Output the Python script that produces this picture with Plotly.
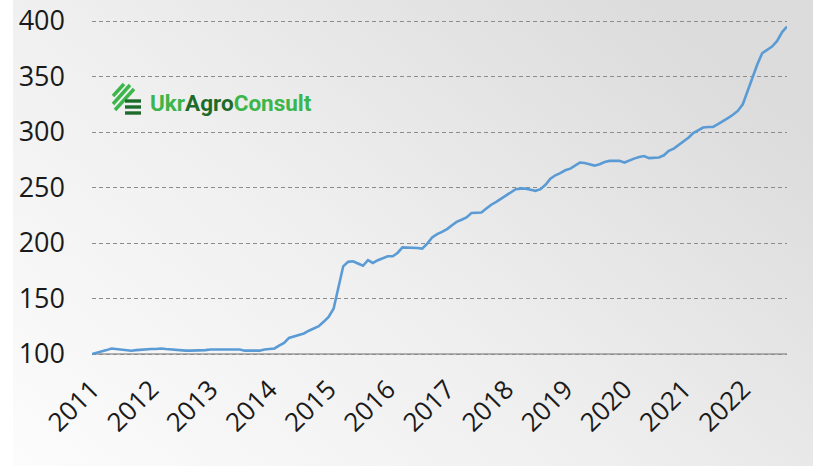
import plotly.graph_objects as go
import pandas as pd

# ---- data (monthly index, Jan 2011 = 100) ----
start_month = "2011-01-01"
values = [
    100, 101, 102, 103.5, 105, 104.5, 103.5, 103, 103, 103.5, 104, 104.5,      # 2011
    104.5, 104.5, 105, 104.5, 104, 103.5, 103, 103, 103, 103, 103, 103.5,      # 2012
    104, 104, 104, 104, 104, 104, 104, 103, 103, 103, 103, 104,                # 2013
    104.5, 105, 107.5, 110, 114.5, 116, 117, 118.5, 121, 123, 125, 129,        # 2014
    133.5, 141, 160, 179, 183, 183.5, 181.5, 179.5, 184.5, 182, 184.5, 186.5,  # 2015
    188, 188, 191, 196, 196, 196, 195.5, 195, 199.5, 205, 208, 210,            # 2016
    212.5, 216, 219, 221, 223, 227, 227.5, 227.5, 231, 234.5, 237, 240,        # 2017
    243, 246, 248.5, 249, 249, 248, 247, 248.5, 252.5, 258, 261, 263,          # 2018
    265.5, 267, 269.5, 272.5, 272, 270.5, 269.7, 271, 273, 274, 274, 274,      # 2019
    272.5, 274.5, 276, 277.5, 278.4, 276.5, 276.5, 277, 279, 283, 285, 288,    # 2020
    291.5, 295, 299, 301.5, 304, 304.5, 304.5, 307, 309.5, 312.5, 315.5, 319,  # 2021
    325, 338, 350, 361, 371, 374, 377, 382, 390, 395,                          # 2022
]
dates = pd.date_range(start_month, periods=len(values), freq="MS")
y_ticks = [100, 150, 200, 250, 300, 350, 400]

W, H = 813, 466
# desired plot area in screen pixels
SX0, SX1, SY0, SY1 = 92, 787, 17, 356
L, T = SX0, SY0
R, B = W - SX1, H - SY1
PW, PH = SX1 - SX0, SY1 - SY0
PPU = 1.11  # pixels per unit: 400 at y=21, 100 at y=354
Y_LO = 100 - (SY1 - 354) / PPU
Y_HI = 400 + (21 - SY0) / PPU

def px(x):
    return (x - SX0) / PW

def py(y):
    return (SY1 - y) / PH

fig = go.Figure()
fig.add_trace(go.Scatter(
    x=dates, y=values, mode="lines",
    line=dict(color="#5b9bd5", width=2.6),
    hoverinfo="x+y",
))

bg_svg = (
    "data:image/svg+xml;utf8,"
    "<svg xmlns='http://www.w3.org/2000/svg' width='813' height='466' preserveAspectRatio='none'>"
    "<defs><linearGradient id='g' x1='0' y1='1' x2='1' y2='0.3'>"
    "<stop offset='0' stop-color='%23fcfcfc'/>"
    "<stop offset='0.5' stop-color='%23efefef'/>"
    "<stop offset='1' stop-color='%23dcdcdc'/>"
    "</linearGradient></defs>"
    "<rect x='13' y='0' width='800' height='466' fill='url(%23g)'/></svg>"
)

fig.update_layout(
    width=W, height=H,
    margin=dict(l=L, r=R, t=T, b=B, autoexpand=False),
    paper_bgcolor="white",
    plot_bgcolor="rgba(0,0,0,0)",
    showlegend=False,
    font=dict(family="Open Sans, DejaVu Sans, sans-serif", color="#1a1a1a"),
    images=[dict(
        source=bg_svg, xref="paper", yref="paper",
        x=px(0), y=py(0), sizex=W / PW, sizey=H / PH,
        xanchor="left", yanchor="top", sizing="stretch", layer="below",
    )],
    xaxis=dict(
        type="date", automargin=False,
        range=[dates[0], dates[-1]],
        tick0=start_month, dtick="M12", tickformat="%Y",
        tickangle=-45, tickfont=dict(size=26, color="#1a1a1a"),
        showgrid=False, zeroline=False, showline=False,
        ticks="", ticklabelstandoff=12,
    ),
    yaxis=dict(
        automargin=False,
        range=[Y_LO, Y_HI],
        tickvals=y_ticks,
        tickfont=dict(size=27, color="#1a1a1a"),
        showgrid=True, gridcolor="#8c8c8c", gridwidth=1, griddash="4px,3px",
        zeroline=False, showline=False, ticks="", ticklabelstandoff=26,
        ticklabeloverflow="allow",
    ),
)

# solid baseline at 100
fig.add_shape(type="line", xref="paper", yref="y", x0=0, x1=1, y0=100, y1=100,
              line=dict(color="#9a9a9a", width=1.3), layer="below")

# logo icon
light, dark = "#3cb54a", "#1d6b2b"
for (x0, y0, x1, y1) in [(113, 96, 124, 84), (113, 104, 130, 85), (115, 110, 134, 89)]:
    fig.add_shape(type="line", xref="paper", yref="paper",
                  x0=px(x0), y0=py(y0), x1=px(x1), y1=py(y1),
                  line=dict(color=light, width=3.4))
for yy in [101, 107, 113]:
    fig.add_shape(type="line", xref="paper", yref="paper",
                  x0=px(125), y0=py(yy), x1=px(141), y1=py(yy),
                  line=dict(color=dark, width=3.4))

fig.add_annotation(
    xref="paper", yref="paper", x=px(148), y=py(103),
    xanchor="left", yanchor="middle", showarrow=False,
    text=("<b><span style='color:%s'>Ukr</span><span style='color:%s'>Agro</span>"
          "<span style='color:%s'>Consult</span></b>") % (light, dark, light),
    font=dict(family="Roboto, sans-serif", size=22.5),
)

fig.write_html("out.html",
               config={"displayModeBar": False},
               post_script="document.body.style.margin='0';document.body.style.overflow='hidden';")
